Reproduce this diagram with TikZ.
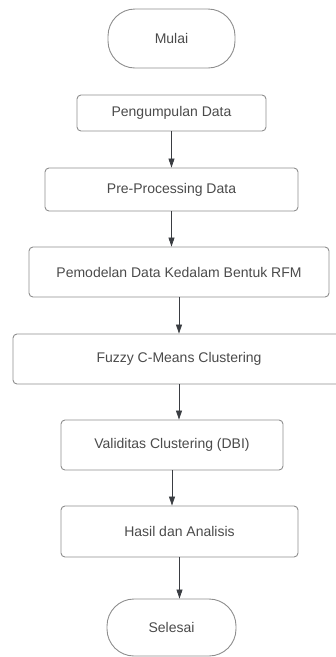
\documentclass[tikz,border=0pt]{standalone}
\usepackage{fontspec}
\setmainfont{Liberation Sans}
\usetikzlibrary{arrows.meta,shapes.misc}
\definecolor{boxline}{HTML}{8E8E8E}
\definecolor{txt}{HTML}{4A4A4A}
\definecolor{arrcol}{HTML}{3A3D42}
\begin{document}
\begin{tikzpicture}[x=1pt,y=-1pt,
  procbox/.style={draw=boxline,line width=0.9pt,rounded corners=4pt,text=txt,
    font=\fontsize{14}{16}\selectfont,inner sep=0pt},
  termbox/.style={draw=boxline,line width=0.9pt,rounded corners=27pt,text=txt,
    font=\fontsize{14}{16}\selectfont,inner sep=0pt},
  arr/.style={draw=arrcol,line width=0.8pt,-{Triangle[width=6pt,length=9pt]}}]
\useasboundingbox (0,0) rectangle (336,657);
\begin{scope}
\clip (0,0) rectangle (336,657);
\node[termbox,minimum width=127pt,minimum height=59pt] (mulai) at (171.5,38.5) {Mulai};
\node[procbox,minimum width=189pt,minimum height=36pt] (peng) at (171.5,113) {Pengumpulan Data};
\node[procbox,minimum width=253pt,minimum height=43pt] (pre) at (171.5,189.5) {Pre-Processing Data};
\node[procbox,minimum width=300pt,minimum height=50pt] (pem) at (179,272) {Pemodelan Data Kedalam Bentuk RFM};
\node[procbox,minimum width=332pt,minimum height=50pt] (fuzzy) at (179,359) {Fuzzy C-Means Clustering};
\node[procbox,minimum width=222pt,minimum height=50pt] (valid) at (172,445) {Validitas Clustering (DBI)};
\node[procbox,minimum width=237pt,minimum height=51pt] (hasil) at (179.5,531.5) {Hasil dan Analisis};
\node[termbox,minimum width=129pt,minimum height=57pt] (selesai) at (171.5,627.5) {Selesai};
\end{scope}
\draw[arr] (peng.south) -- (pre.north);
\draw[arr] (pre.south) -- (pre.south |- pem.north);
\draw[arr] (pem.south) -- (fuzzy.north);
\draw[arr] (fuzzy.south) -- (fuzzy.south |- valid.north);
\draw[arr] (valid.south) -- (valid.south |- hasil.north);
\draw[arr] (hasil.south) -- (hasil.south |- selesai.north);
\end{tikzpicture}
\end{document}
